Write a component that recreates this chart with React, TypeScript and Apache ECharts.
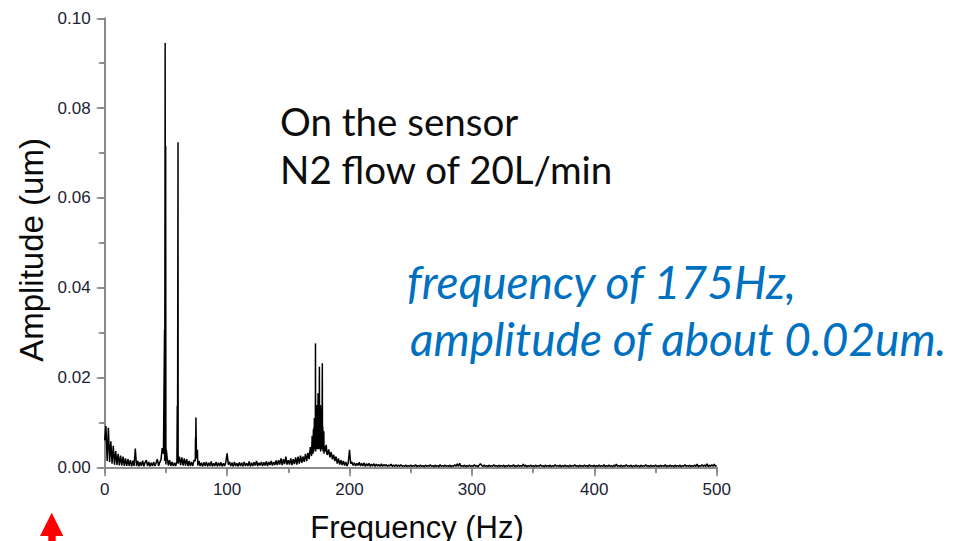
import React, { useEffect, useRef } from "react";
import * as echarts from "echarts";

// Amplitudes are stored in units of 1e-4 um.
const AMP_UNIT = 1e-4;

// Spectrum floor on a 1 Hz grid, 0–99 Hz.
const band0to99: number[] = [
  60, 92, 14, 88, 12, 58, 8, 48, 6, 36,
  5, 30, 4, 26, 4, 24, 3, 20, 3, 18,
  3, 16, 2, 15, 3, 42, 3, 14, 2, 12,
  3, 15, 2, 11, 16, 3, 12, 2, 10, 3,
  12, 3, 10, 18, 3, 11, 17, 43, 30, 14,
  6, 22, 4, 16, 3, 12, 3, 10, 3, 14,
  8, 24, 5, 22, 4, 20, 4, 18, 3, 14,
  3, 12, 3, 16, 14, 20, 4, 14, 3, 10,
  2, 11, 3, 12, 2, 10, 3, 13, 2, 9,
  3, 12, 2, 10, 3, 11, 2, 9, 3, 12,
];

// 100–199 Hz.
const band100to199: number[] = [
  31, 6, 12, 3, 10, 2, 12, 3, 9, 2,
  11, 3, 10, 2, 12, 3, 9, 3, 13, 2,
  10, 3, 11, 4, 14, 3, 10, 4, 12, 3,
  11, 4, 13, 3, 12, 5, 14, 4, 12, 5,
  15, 5, 16, 6, 20, 5, 18, 7, 24, 6,
  16, 6, 20, 5, 18, 7, 22, 6, 24, 8,
  26, 10, 24, 12, 30, 14, 32, 18, 45, 25,
  45, 90, 60, 100, 70, 110, 55, 120, 45, 80,
  35, 50, 28, 40, 22, 34, 18, 28, 14, 24,
  8, 20, 6, 16, 5, 14, 4, 12, 3, 10,
];

// 200–500 Hz.
const band200to500: number[] = [
  39, 8, 12, 4, 10, 3, 9, 4, 11, 3,
  9, 3, 10, 2, 8, 3, 9, 2, 7, 3,
  8, 2, 7, 3, 6, 2, 8, 2, 6, 3,
  6, 2, 5, 3, 7, 2, 5, 2, 6, 2,
  5, 2, 6, 2, 4, 2, 5, 2, 4, 2,
  5, 2, 4, 2, 6, 1, 4, 2, 5, 2,
  4, 1, 5, 2, 4, 2, 6, 2, 4, 1,
  5, 2, 4, 1, 6, 2, 4, 2, 5, 2,
  4, 2, 5, 1, 4, 2, 6, 2, 8, 2,
  9, 2, 4, 2, 5, 1, 4, 2, 5, 2,
  4, 2, 6, 2, 4, 1, 5, 8, 4, 2,
  5, 2, 4, 1, 5, 2, 4, 2, 6, 2,
  4, 1, 5, 2, 4, 2, 5, 1, 4, 2,
  5, 2, 4, 2, 6, 1, 4, 2, 5, 2,
  4, 2, 7, 2, 5, 1, 4, 2, 5, 2,
  4, 1, 5, 2, 4, 2, 6, 2, 4, 1,
  5, 2, 4, 2, 5, 1, 4, 2, 6, 2,
  4, 2, 5, 1, 4, 2, 5, 2, 4, 1,
  5, 2, 4, 2, 6, 2, 4, 1, 5, 2,
  4, 2, 5, 2, 4, 1, 6, 2, 4, 2,
  5, 1, 4, 2, 5, 2, 4, 2, 6, 1,
  4, 2, 5, 2, 4, 1, 5, 2, 7, 2,
  4, 2, 5, 1, 4, 2, 6, 2, 4, 2,
  5, 1, 4, 2, 5, 2, 4, 1, 5, 2,
  4, 2, 6, 2, 4, 1, 5, 2, 4, 2,
  5, 2, 4, 1, 5, 2, 4, 2, 6, 1,
  4, 2, 5, 2, 4, 1, 5, 2, 4, 2,
  5, 1, 4, 2, 6, 2, 4, 2, 5, 1,
  4, 2, 5, 2, 7, 1, 4, 2, 6, 2,
  5, 2, 8, 1, 5, 2, 6, 2, 7, 2,
  4,
];

// Sharp lines between grid points: [frequency Hz, amplitude in 1e-4 um].
const lines50Hz: [number, number][] = [
  [48.9, 306], [49.4, 945], [49.6, 20], [49.8, 716], [50.3, 40],
];
const lines60Hz: [number, number][] = [
  [59.3, 137], [59.5, 10], [59.9, 724],
];
const lines75Hz: [number, number][] = [
  [74.2, 67], [74.35, 20], [74.5, 111], [75.8, 39],
];
const lines175Hz: [number, number][] = [
  [168.5, 35], [169.5, 70], [170.25, 30], [170.5, 85], [170.75, 35],
  [171.15, 40], [171.3, 110], [171.5, 45], [171.7, 60], [171.85, 100],
  [172.1, 40], [172.2, 276], [172.35, 35], [172.5, 90], [172.65, 40],
  [172.8, 125], [173.15, 45], [173.3, 139], [173.45, 40], [173.6, 80],
  [173.8, 120], [173.9, 45], [174.15, 50], [174.3, 165], [174.45, 40],
  [174.6, 95], [174.8, 130], [174.9, 40], [175.1, 150], [175.25, 45],
  [175.4, 224], [175.55, 50], [175.7, 90], [175.85, 40], [176.15, 120],
  [176.3, 139], [176.45, 35], [176.6, 75], [176.8, 110], [176.9, 40],
  [177.15, 45], [177.3, 130], [177.55, 50], [177.65, 140], [177.8, 232],
  [177.95, 40], [178.15, 90], [178.3, 70], [178.45, 35], [178.6, 60],
  [178.8, 70], [179.2, 30], [179.4, 48], [180.5, 40], [181.5, 30],
];

const xTicksMajor = 100;
const yTicksMajor = 0.02;

function buildSpectrum(): [number, number][] {
  const grid = [...band0to99, ...band100to199, ...band200to500];
  const pts: [number, number][] = grid.map((v, i) => [i, v * AMP_UNIT]);
  const extra = [...lines50Hz, ...lines60Hz, ...lines75Hz, ...lines175Hz].map(
    ([f, v]) => [f, v * AMP_UNIT] as [number, number]
  );
  return [...pts, ...extra].sort((a, b) => a[0] - b[0]);
}

const AXIS_GREY = "#858585";
const LABEL_INK = "#1b2233";
const ARIAL = "'Liberation Sans', Arial, sans-serif";
const HUMANIST = "Lato, 'Open Sans', sans-serif";

export default function App() {
  const ref = useRef<HTMLDivElement>(null);

  useEffect(() => {
    if (!ref.current) return;
    const chart = echarts.init(ref.current, undefined, { renderer: "svg" });
    const axisLine = { show: true, lineStyle: { color: AXIS_GREY, width: 1.6 } };
    const tickStyle = { color: AXIS_GREY, width: 1.5 };

    chart.setOption({
      animation: false,
      backgroundColor: "#ffffff",
      grid: { left: 104.7, right: 252.3, top: 18.3, bottom: 73.7, containLabel: false },
      xAxis: [
        {
          type: "value",
          position: "bottom",
          min: 0,
          max: 500,
          interval: xTicksMajor,
          axisLine,
          axisTick: { show: true, inside: false, length: 9, lineStyle: tickStyle },
          minorTick: { show: true, splitNumber: 2, length: 5, lineStyle: tickStyle },
          splitLine: { show: false },
          axisLabel: { fontSize: 17, color: LABEL_INK, fontFamily: ARIAL, margin: 14 },
        },
        {
          type: "value",
          position: "top",
          min: 0,
          max: 500,
          interval: 50,
          axisLine,
          axisTick: { show: true, inside: true, length: 6, lineStyle: tickStyle },
          axisLabel: { show: false },
          splitLine: { show: false },
        },
      ],
      yAxis: [
        {
          type: "value",
          position: "left",
          min: 0,
          max: 0.1,
          interval: yTicksMajor,
          axisLine,
          axisTick: { show: true, inside: false, length: 8, lineStyle: tickStyle },
          minorTick: { show: true, splitNumber: 2, length: 4, lineStyle: tickStyle },
          splitLine: { show: false },
          axisLabel: {
            fontSize: 17,
            color: LABEL_INK,
            fontFamily: ARIAL,
            margin: 14,
            formatter: (v: number) => v.toFixed(2),
          },
        },
        {
          type: "value",
          position: "right",
          min: 0,
          max: 0.1,
          interval: 0.01,
          axisLine,
          axisTick: { show: true, inside: true, length: 6, lineStyle: tickStyle },
          axisLabel: { show: false },
          splitLine: { show: false },
        },
      ],
      series: [
        {
          type: "line",
          xAxisIndex: 0,
          yAxisIndex: 0,
          data: buildSpectrum(),
          showSymbol: false,
          symbol: "none",
          silent: true,
          lineStyle: { color: "#000000", width: 1.5 },
          z: 3,
        },
      ],
      graphic: [
        {
          type: "text",
          x: 31,
          y: 250,
          rotation: Math.PI / 2,
          style: {
            text: "Amplitude (um)",
            font: `33px ${ARIAL}`,
            fill: "#0a0a0a",
            align: "center",
            verticalAlign: "middle",
          },
        },
        {
          type: "text",
          x: 417,
          y: 527,
          style: {
            text: "Frequency (Hz)",
            font: `31px ${ARIAL}`,
            fill: "#0a0a0a",
            align: "center",
            verticalAlign: "middle",
          },
        },
        {
          type: "text",
          x: 280,
          y: 121,
          style: {
            text: "On the sensor",
            font: `38.5px ${HUMANIST}`,
            fill: "#0d0d0d",
            align: "left",
            verticalAlign: "middle",
          },
        },
        {
          type: "text",
          x: 280,
          y: 169,
          style: {
            text: "N2 flow of 20L/min",
            font: `38.5px ${HUMANIST}`,
            fill: "#0d0d0d",
            align: "left",
            verticalAlign: "middle",
          },
        },
        {
          type: "text",
          x: 407,
          y: 281,
          style: {
            text: "frequency of 175Hz,",
            font: `italic 46px ${HUMANIST}`,
            fill: "#0070c0",
            align: "left",
            verticalAlign: "middle",
          },
        },
        {
          type: "text",
          x: 410,
          y: 338,
          style: {
            text: "amplitude of about 0.02um.",
            font: `italic 46px ${HUMANIST}`,
            fill: "#0070c0",
            align: "left",
            verticalAlign: "middle",
          },
        },
        {
          type: "polygon",
          shape: {
            points: [
              [51.7, 512.7], [63.3, 536], [55.7, 536], [55.7, 541],
              [48.3, 541], [48.3, 536], [40, 536],
            ],
          },
          style: { fill: "#ff0000" },
        },
      ],
    });

    return () => chart.dispose();
  }, []);

  return (
    <div
      ref={ref}
      style={{ position: "fixed", left: 0, top: 0, width: 969, height: 541, background: "#fff" }}
    />
  );
}
